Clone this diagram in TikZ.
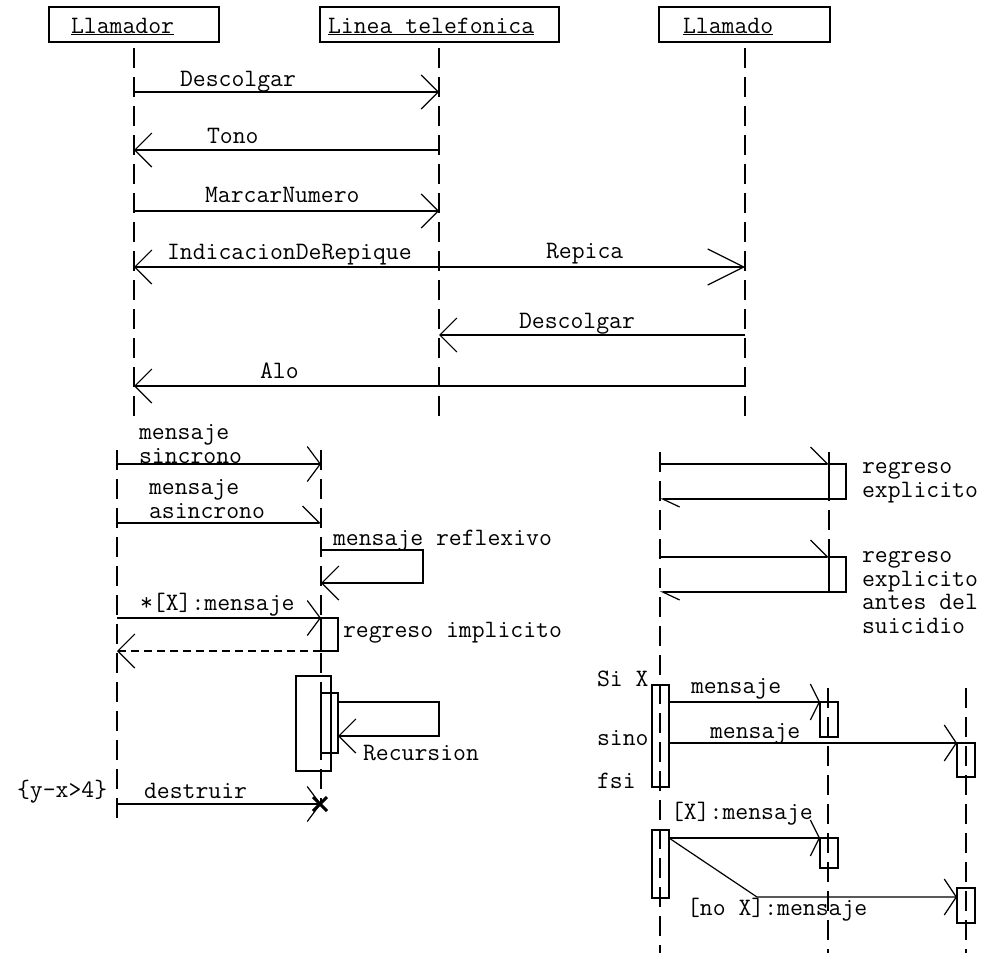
\documentclass[tikz,border=0pt]{standalone}
\usepackage{fontspec}
\usetikzlibrary{arrows.meta,shapes.misc}
\begin{document}
\begin{tikzpicture}[x=1pt,y=-1pt,
  txt/.style={font=\ttfamily\fontsize{25}{23.5}\selectfont},
  lbl/.style={txt, inner sep=0pt, outer sep=0pt, anchor=base west, align=left},
  hdr/.style={txt, draw, line width=1.8pt, anchor=base west, align=left,
     inner ysep=0pt, text height=26pt, text depth=9pt, outer sep=0pt},
  life/.style={line width=1.2pt, dash pattern=on 20pt off 9pt},
  msg/.style={line width=1.2pt},
  ret/.style={line width=1.2pt, dash pattern=on 8pt off 5pt},
  act/.style={draw, line width=1.2pt, inner sep=0pt, outer sep=0pt, anchor=north west},
  tipV/.style={-{Straight Barb[length=17pt,width=34pt]}},
  tipW/.style={-{Straight Barb[length=36pt,width=36pt]}},
  tipS/.style={-{Straight Barb[length=13pt,width=35pt]}},
  tipH/.style={-{Straight Barb[length=17pt,width=34pt,harpoon]}},
  tipHr/.style={-{Straight Barb[length=17pt,width=16pt,harpoon]}},
  tipN/.style={-{Straight Barb[length=9pt,width=36pt]}},
  tipT/.style={-{Straight Barb[length=12pt,width=36pt]}},
]
\useasboundingbox (0,0) rectangle (985,953);

% ---------- headers ----------
\node[hdr, inner xsep=22pt, text width=126pt] (h1) at (49,33) {\underline{Llamador}};
\node[hdr, inner xsep=8pt, text width=223pt] (h2) at (320,33) {\underline{Linea\hspace{0.525em}telefonica}};
\node[hdr, inner xsep=24pt, text width=123pt] (h3) at (659,33) {\underline{Llamado}};

\coordinate (A) at (134,48);
\coordinate (B) at (439,48);
\coordinate (C) at (745,48);
\draw[life] (A) -- (A |- 0,416);
\draw[life] (B) -- (B |- 0,416);
\draw[life] (C) -- (C |- 0,416);

\draw[msg,tipV] (A |- 0,92) -- (B |- 0,92);
\draw[msg,tipV] (B |- 0,150) -- (A |- 0,150);
\draw[msg,tipV] (A |- 0,211) -- (B |- 0,211);
\draw[msg,tipV] (B |- 0,267) -- (A |- 0,267);
\draw[msg,tipW] (B |- 0,267) -- (C |- 0,267);
\draw[msg,tipV] (C |- 0,335) -- (B |- 0,335);
\draw[msg,tipV] (C |- 0,386) -- (A |- 0,386);

\node[lbl] (t1) at (180,86) {Descolgar};
\node[lbl] (t2) at (207,143) {Tono};
\node[lbl] (t3) at (205,202) {MarcarNumero};
\node[lbl] (t4) at (167,259) {IndicacionDeRepique};
\node[lbl] (t5) at (546,258) {Repica};
\node[lbl] (t6) at (519,328) {Descolgar};
\node[lbl] (t7) at (260,378) {Alo};

% ---------- lower left ----------
\coordinate (D) at (117,450);
\coordinate (E) at (321,450);
\draw[life] (D) -- (D |- 0,822);
\draw[life] (E) -- (E |- 0,804);

\draw[msg,tipS] (D |- 0,464) -- (E |- 0,464);
\node[lbl] (l1) at (139,463) {mensaje\\sincrono};
\draw[msg,tipH] (D |- 0,523) -- (E |- 0,523);
\node[lbl] (l2) at (149,518) {mensaje\\asincrono};

\draw[msg,tipV] (E |- 0,550) -- (423,550) -- (423,583) -- (E |- 0,583);
\node[lbl] (l3) at (333,545) {mensaje reflexivo};

\draw[msg,tipS] (D |- 0,618) -- (E |- 0,618);
\node[lbl] (l4) at (140,610) {*[X]:mensaje};
\node[act, minimum width=17pt, minimum height=33pt] (a1) at (321,618) {};
\draw[ret,tipV] (a1.south west) -- (D |- a1.south);
\node[lbl] (l5) at (343,637) {regreso implicito};

\node[act, minimum width=35pt, minimum height=95pt] (o1) at (296,676) {};
\node[act, minimum width=17pt, minimum height=60pt] (i1) at (321,693) {};
\draw[msg,tipV] (i1.east |- 0,702) -- (439,702) -- (439,736) -- (i1.east |- 0,736);
\node[lbl] (l6) at (363,760) {Recursion};

\draw[msg,tipS] (D |- 0,804) -- (E |- 0,804);
\node[cross out, draw, line width=3pt, minimum size=11pt, inner sep=0pt] (k1) at (320,804) {};
\node[lbl] (l7) at (17,797) {\{y-x>4\}};
\node[lbl] (l8) at (144,798) {destruir};

% ---------- lower right ----------
\coordinate (F) at (660,452);
\coordinate (G) at (829,452);
\draw[life] (F) -- (F |- 0,953);
\draw[life] (G) -- (G |- 0,592);

\node[act, minimum width=17pt, minimum height=35pt] (r1) at (829,464) {};
\draw[msg,tipH] (F |- r1.north) -- (r1.north west);
\draw[msg,tipHr] (r1.south east) -- (F |- r1.south);
\node[lbl] (l9) at (862,497) {regreso\\explicito};

\node[act, minimum width=17pt, minimum height=35pt] (r2) at (829,557) {};
\draw[msg,tipH] (F |- r2.north) -- (r2.north west);
\draw[msg,tipHr] (r2.south east) -- (F |- r2.south);
\node[lbl] (l10) at (862,633) {regreso\\explicito\\antes del\\suicidio};

\coordinate (H) at (828,688);
\coordinate (I) at (966,688);
\draw[life] (H) -- (H |- 0,953);
\draw[life] (I) -- (I |- 0,953);

\node[act, minimum width=17pt, minimum height=102pt] (s1) at (652,685) {};
\node[act, minimum width=18pt, minimum height=35pt] (n1) at (820,702) {};
\node[act, minimum width=18pt, minimum height=34pt] (n2) at (957,743) {};
\draw[msg,tipN] (s1.east |- n1.north) -- (n1.north west);
\draw[msg,tipT] (s1.east |- n2.north) -- (n2.north west);
\node[lbl] (l11) at (597,686) {Si X};
\node[lbl] (l12) at (597,745) {sino};
\node[lbl] (l13) at (597,788) {fsi};
\node[lbl] (l14) at (691,693) {mensaje};
\node[lbl] (l15) at (710,738) {mensaje};

\node[act, minimum width=17pt, minimum height=68pt] (s2) at (652,830) {};
\node[act, minimum width=18pt, minimum height=30pt] (n3) at (820,838) {};
\node[act, minimum width=18pt, minimum height=35pt] (n4) at (957,888) {};
\coordinate (bend) at (757,897);
\draw[msg,tipN] (s2.east |- n3.north) -- (n3.north west);
\draw[msg,tipT] (s2.east |- n3.north) -- (bend) -- (n4.west |- bend);
\node[lbl] (l16) at (671,819) {[X]:mensaje};
\node[lbl] (l17) at (687,915) {[no X]:mensaje};
\end{tikzpicture}
\end{document}
